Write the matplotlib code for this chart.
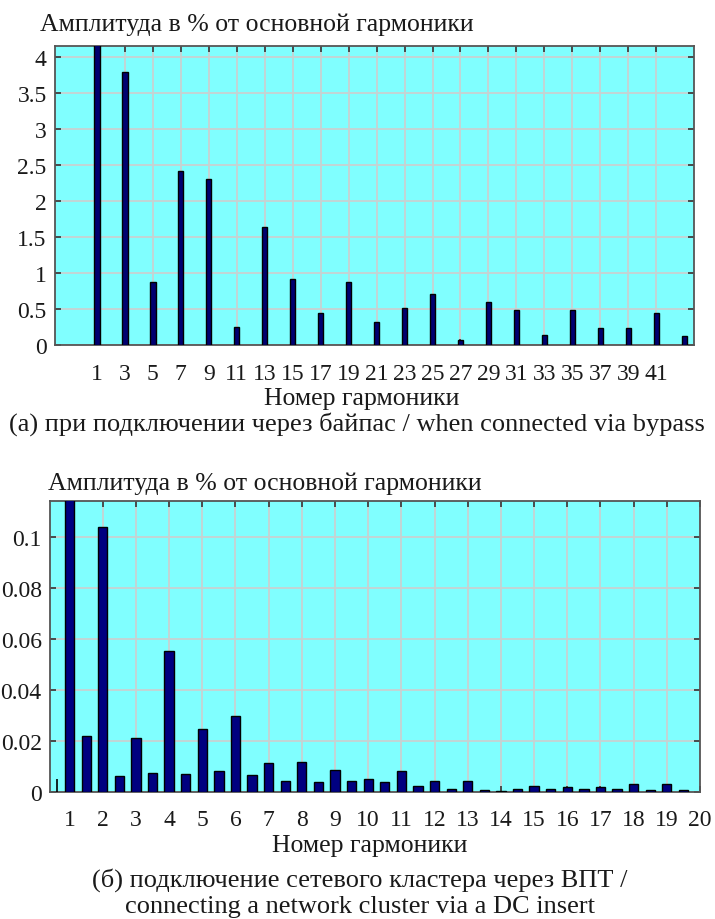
import numpy as np
import matplotlib
matplotlib.use('Agg')
import matplotlib.pyplot as plt

plt.rcParams['font.family'] = ['Liberation Serif', 'DejaVu Serif']

# (a) odd harmonics, bypass connection
harm_a = [1, 3, 5, 7, 9, 11, 13, 15, 17, 19, 21, 23, 25, 27, 29, 31, 33, 35, 37, 39, 41, 43]
amp_a = [4.40, 3.79, 0.875, 2.42, 2.31, 0.25, 1.64, 0.92, 0.44, 0.875, 0.32,
         0.51, 0.71, 0.07, 0.60, 0.49, 0.14, 0.49, 0.24, 0.24, 0.44, 0.125]
xticks_a = list(range(1, 42, 2))
yticks_a = [0, 0.5, 1, 1.5, 2, 2.5, 3, 3.5, 4]
yticklabels_a = ['0', '0.5', '1', '1.5', '2', '2.5', '3', '3.5', '4']

# (б) harmonics and interharmonics, cluster via DC insert
harm_b = [1, 1.5, 2, 2.5, 3, 3.5, 4, 4.5, 5, 5.5, 6, 6.5, 7, 7.5, 8, 8.5, 9, 9.5,
          10, 10.5, 11, 11.5, 12, 12.5, 13, 13.5, 14, 14.5, 15, 15.5, 16, 16.5,
          17, 17.5, 18, 18.5, 19, 19.5]
amp_b = [0.130, 0.022, 0.104, 0.0062, 0.021, 0.0074, 0.0554, 0.0069, 0.0247, 0.0081,
         0.0297, 0.0068, 0.0113, 0.0043, 0.0119, 0.0038, 0.0088, 0.0043,
         0.0050, 0.0038, 0.0081, 0.0022, 0.0043, 0.0011, 0.0043, 0.0006,
         0.0003, 0.0013, 0.0025, 0.0013, 0.0019, 0.0013,
         0.0019, 0.0013, 0.0031, 0.0006, 0.0031, 0.0006]
spike_b_pos = [0.62]
spike_b_amp = [0.005]
xticks_b = list(range(1, 21))
yticks_b = [0, 0.02, 0.04, 0.06, 0.08, 0.1]
yticklabels_b = ['0', '0.02', '0.04', '0.06', '0.08', '0.1']

ylabel_txt = 'Амплитуда в % от основной гармоники'
xlabel_txt = 'Номер гармоники'
caption_a = '(а) при подключении через байпас / when connected via bypass'
caption_b = '(б) подключение сетевого кластера через ВПТ /\nconnecting a network cluster via a DC insert'

W, H = 715, 920
BG = '#80ffff'
GRID = '#c8d2d2'
TXT = '#1a1a1a'
TICK_FS = 17
LABEL_FS = 18.5
CAP_FS = 19


def px_box(left, top, right, bottom):
    return [left / W, 1 - bottom / H, (right - left) / W, (bottom - top) / H]


def style_axes(ax):
    ax.set_facecolor(BG)
    ax.grid(True, color=GRID, linewidth=1.3)
    ax.set_axisbelow(True)
    for s in ax.spines.values():
        s.set_color('#555555')
        s.set_linewidth(1.3)
    ax.tick_params(direction='in', length=4, width=1.2, color='#333333',
                   top=True, right=True, labelsize=TICK_FS, labelcolor=TXT, pad=6)


fig = plt.figure(figsize=(W / 100, H / 100), dpi=100)

# top panel: 55..694 px wide, 47..346 px tall
ax1 = fig.add_axes(px_box(55, 47, 694, 346))
style_axes(ax1)
ax1.bar(harm_a, amp_a, width=0.38, color='#000070', edgecolor='black', linewidth=1.0, zorder=3)
ax1.set_xlim(-2, 43.7)
ax1.set_ylim(0, 4.15)
ax1.set_xticks(xticks_a)
ax1.set_yticks(yticks_a)
ax1.set_yticklabels(yticklabels_a)
ax1.tick_params(axis='x', pad=13)
ax1.set_xlabel(xlabel_txt, fontsize=LABEL_FS, color=TXT, va='center')
ax1.xaxis.set_label_coords((362 - 55) / 639, (346 - 399) / 299)
fig.text(40 / W, 1 - 25 / H, ylabel_txt, fontsize=LABEL_FS, color=TXT, ha='left', va='center')
fig.text(357 / W, 1 - 424 / H, caption_a, fontsize=CAP_FS, color=TXT, ha='center', va='center')

# bottom panel: 50..700 px wide, 502..793 px tall
ax2 = fig.add_axes(px_box(50, 502, 700, 793))
style_axes(ax2)
ax2.bar(harm_b, amp_b, width=0.28, color='#000080', edgecolor='black', linewidth=1.0, zorder=3)
ax2.vlines(spike_b_pos, 0, spike_b_amp, color='black', linewidth=1.2, zorder=3)
ax2.set_xlim(0.41, 20)
ax2.set_ylim(0, 0.114)
ax2.set_xticks(xticks_b)
ax2.set_yticks(yticks_b)
ax2.set_yticklabels(yticklabels_b)
ax2.tick_params(axis='x', pad=12)
ax2.set_xlabel(xlabel_txt, fontsize=LABEL_FS, color=TXT, va='center')
ax2.xaxis.set_label_coords((370 - 50) / 650, (793 - 846) / 291)
fig.text(48 / W, 1 - 484 / H, ylabel_txt, fontsize=LABEL_FS, color=TXT, ha='left', va='center')
fig.text(360 / W, 1 - 893 / H, caption_b, fontsize=CAP_FS, color=TXT, ha='center', va='center',
         linespacing=1.2)

fig.savefig('out.png', dpi=100)
